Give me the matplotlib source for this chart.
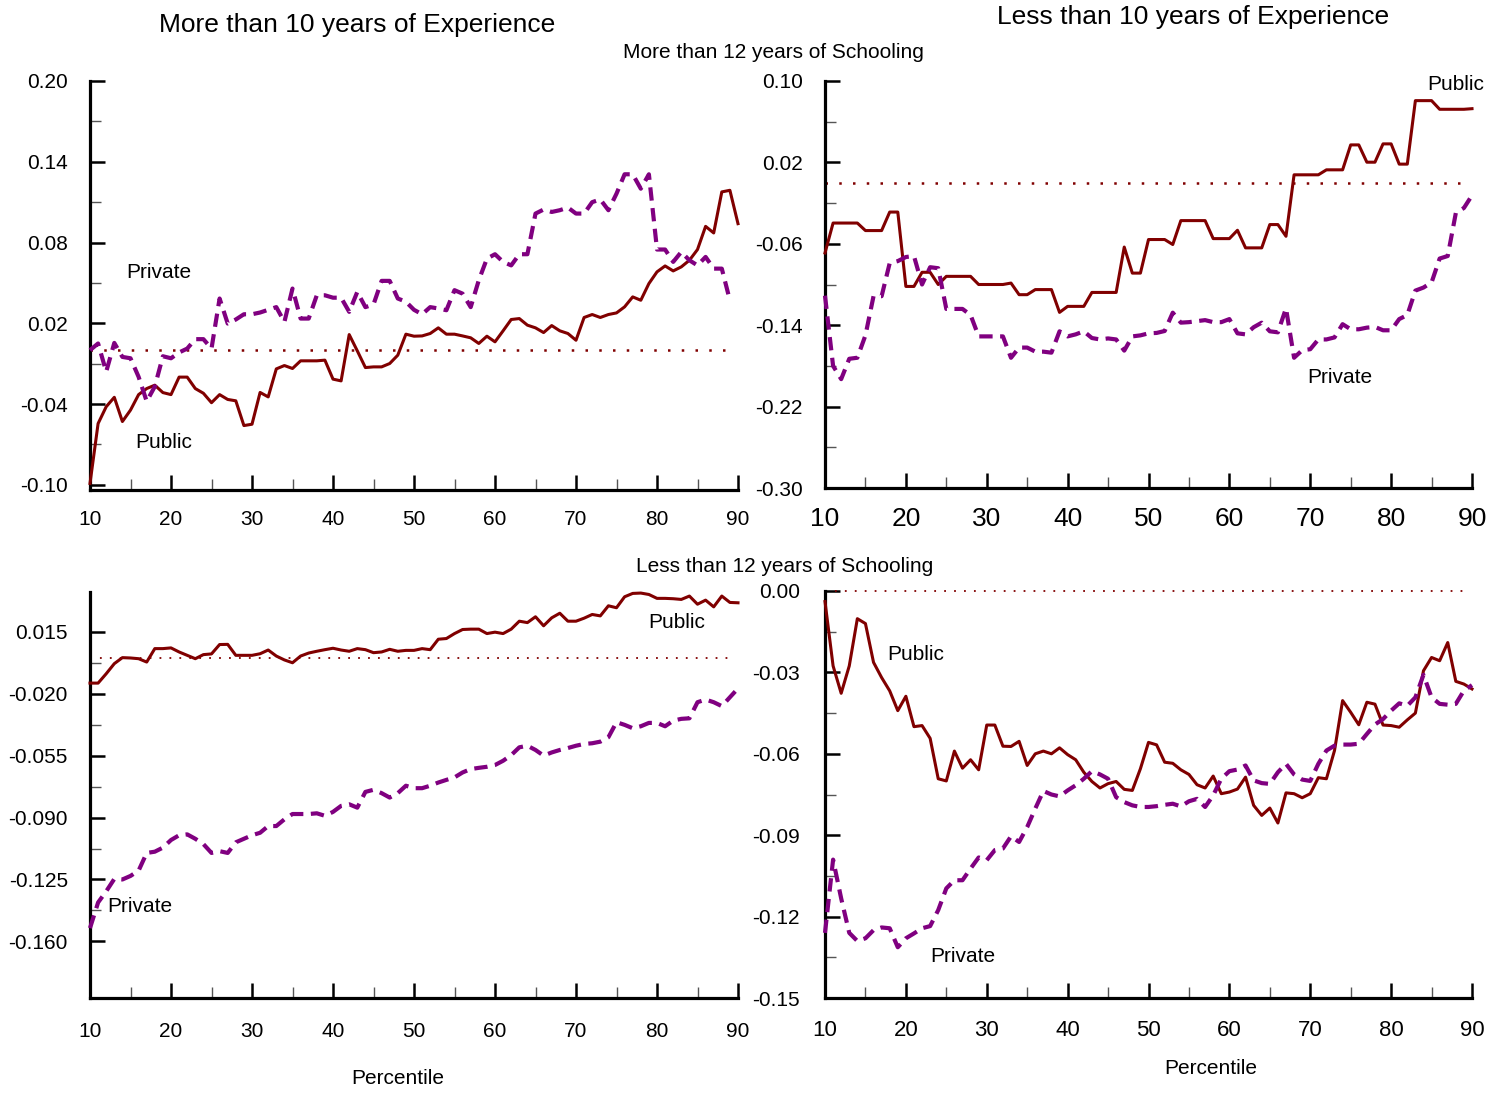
import numpy as np
import matplotlib
matplotlib.use("Agg")
import matplotlib.pyplot as plt
from matplotlib.ticker import FixedLocator

plt.rcParams['font.family'] = ['Liberation Sans', 'DejaVu Sans']

pct = np.arange(10, 91)

# top left: more than 12 yrs schooling, more than 10 yrs experience
pub_tl = [-0.099, -0.0545, -0.042, -0.035, -0.053, -0.0445, -0.033, -0.0285, -0.026, -0.0315,
          -0.033, -0.020, -0.020, -0.0285, -0.032, -0.039, -0.033, -0.0366, -0.0376, -0.056,
          -0.055, -0.0314, -0.0347, -0.0139, -0.0114, -0.0136, -0.0079, -0.0079, -0.0079, -0.0074,
          -0.0215, -0.0228, 0.0116, -0.0005, -0.0129, -0.0124, -0.0124, -0.0099, -0.0037, 0.0119,
          0.0104, 0.0106, 0.0124, 0.0166, 0.0119, 0.0119, 0.0106, 0.0092, 0.005, 0.0104,
          0.0062, 0.0144, 0.0228, 0.0235, 0.0186, 0.0166, 0.0131, 0.0183, 0.0144, 0.0124,
          0.0074, 0.0243, 0.0265, 0.0243, 0.0265, 0.0277, 0.0322, 0.0396, 0.0371, 0.0495,
          0.0582, 0.0626, 0.0589, 0.0619, 0.0668, 0.0748, 0.092, 0.0871, 0.1176, 0.1188,
          0.094]
priv_tl = [0.000, 0.005, -0.016, 0.0054, -0.005, -0.006, -0.0198, -0.038, -0.027, -0.0045,
           -0.006, -0.0017, 0.0012, 0.0082, 0.0082, 0.0012, 0.0384, 0.0198, 0.0228, 0.0267,
           0.0267, 0.028, 0.030, 0.032, 0.021, 0.0458, 0.0235, 0.0235, 0.0408, 0.0408,
           0.039, 0.039, 0.0285, 0.0433, 0.032, 0.034, 0.0515, 0.0515, 0.0384, 0.036,
           0.030, 0.0267, 0.032, 0.031, 0.0297, 0.0446, 0.042, 0.032, 0.052, 0.068,
           0.0713, 0.0656, 0.063, 0.0713, 0.0713, 0.1015, 0.1045, 0.1027, 0.104, 0.106,
           0.1015, 0.1015, 0.110, 0.112, 0.104, 0.1163, 0.1307, 0.1307, 0.120, 0.1307,
           0.0748, 0.0748, 0.0656, 0.073, 0.0668, 0.063, 0.0693, 0.0606, 0.0606, 0.037,
           np.nan]

# top right: more than 12 yrs schooling, less than 10 yrs experience
pub_tr = [-0.069, -0.0396, -0.0396, -0.0396, -0.0396, -0.047, -0.047, -0.047, -0.0288, -0.0288,
          -0.1019, -0.1019, -0.088, -0.088, -0.100, -0.092, -0.092, -0.092, -0.092, -0.100,
          -0.100, -0.100, -0.100, -0.0986, -0.110, -0.110, -0.105, -0.105, -0.105, -0.1274,
          -0.1215, -0.1215, -0.1215, -0.1078, -0.1078, -0.1078, -0.1078, -0.0632, -0.0888, -0.0888,
          -0.0558, -0.0558, -0.0558, -0.0607, -0.0372, -0.0372, -0.0372, -0.0372, -0.0549, -0.0549,
          -0.0549, -0.0467, -0.064, -0.064, -0.064, -0.0411, -0.0411, -0.0526, 0.0078, 0.0078,
          0.0078, 0.0078, 0.0127, 0.0127, 0.0127, 0.0372, 0.0372, 0.0202, 0.0202, 0.0382,
          0.0382, 0.0183, 0.0183, 0.0807, 0.0807, 0.0807, 0.0722, 0.0722, 0.0722, 0.0722,
          0.0728]
priv_tr = [-0.111, -0.180, -0.193, -0.173, -0.172, -0.150, -0.1115, -0.1115, -0.079, -0.077,
           -0.073, -0.072, -0.100, -0.083, -0.084, -0.124, -0.124, -0.124, -0.130, -0.151,
           -0.151, -0.151, -0.151, -0.172, -0.162, -0.162, -0.166, -0.166, -0.167, -0.146,
           -0.151, -0.149, -0.146, -0.1526, -0.154, -0.153, -0.154, -0.165, -0.151, -0.150,
           -0.148, -0.1476, -0.1457, -0.1277, -0.1375, -0.137, -0.136, -0.135, -0.137, -0.137,
           -0.134, -0.148, -0.149, -0.142, -0.1375, -0.146, -0.147, -0.1234, -0.172, -0.1646,
           -0.1636, -0.154, -0.154, -0.152, -0.139, -0.144, -0.144, -0.1424, -0.1417, -0.145,
           -0.145, -0.134, -0.130, -0.106, -0.103, -0.098, -0.0745, -0.072, -0.0297, -0.0248,
           -0.0124]

# bottom left: less than 12 yrs schooling, more than 10 yrs experience
pub_bl = [-0.0140, -0.0140, -0.0087, -0.0030, 0.0004, 0.0002, -0.0002, -0.0021, 0.0055, 0.0055,
          0.0059, 0.0036, 0.0017, -0.0002, 0.0021, 0.0025, 0.0078, 0.0079, 0.0017, 0.0017,
          0.0017, 0.0026, 0.0047, 0.0013, -0.0009, -0.0025, 0.0013, 0.0030, 0.0040, 0.0049,
          0.0057, 0.0047, 0.0040, 0.0055, 0.0049, 0.0032, 0.0036, 0.0051, 0.0040, 0.0045,
          0.0045, 0.0055, 0.0049, 0.0108, 0.0112, 0.0140, 0.0163, 0.0165, 0.0165, 0.0140,
          0.0148, 0.0140, 0.0165, 0.0210, 0.0202, 0.0235, 0.0184, 0.0229, 0.0255, 0.0210,
          0.0210, 0.0227, 0.0248, 0.0240, 0.0297, 0.0286, 0.0348, 0.0367, 0.0369, 0.0361,
          0.0339, 0.0339, 0.0337, 0.0333, 0.0352, 0.0306, 0.0329, 0.0291, 0.0352, 0.0316,
          0.0314]
priv_bl = [-0.1525, -0.138, -0.1317, -0.1247, -0.125, -0.123, -0.120, -0.110, -0.1093, -0.107,
           -0.1027, -0.100, -0.0995, -0.102, -0.105, -0.110, -0.109, -0.110, -0.104, -0.102,
           -0.100, -0.0986, -0.0948, -0.0948, -0.091, -0.088, -0.088, -0.088, -0.0876, -0.089,
           -0.0868, -0.0834, -0.0825, -0.0844, -0.0755, -0.0743, -0.0762, -0.0787, -0.0762, -0.072,
           -0.0734, -0.0734, -0.072, -0.0702, -0.0687, -0.0673, -0.0645, -0.0626, -0.0619, -0.0613,
           -0.0603, -0.0579, -0.0547, -0.0503, -0.0494, -0.0518, -0.055, -0.0532, -0.0518, -0.0507,
           -0.0494, -0.0484, -0.048, -0.0471, -0.0446, -0.0361, -0.0376, -0.0395, -0.0384, -0.0365,
           -0.0365, -0.0384, -0.0352, -0.0342, -0.0339, -0.0248, -0.0233, -0.0248, -0.027, -0.022,
           -0.017]

# bottom right: less than 12 yrs schooling, less than 10 yrs experience
pub_br = [-0.0039, -0.0276, -0.0377, -0.0276, -0.0102, -0.012, -0.0263, -0.0319, -0.0368, -0.0441,
          -0.0388, -0.050, -0.0496, -0.0543, -0.0692, -0.070, -0.059, -0.0653, -0.0622, -0.0659,
          -0.0494, -0.0494, -0.0572, -0.0573, -0.0554, -0.0643, -0.060, -0.059, -0.060, -0.0578,
          -0.0603, -0.0622, -0.0668, -0.0702, -0.0726, -0.0710, -0.0702, -0.0731, -0.0735, -0.0655,
          -0.0558, -0.0567, -0.0631, -0.0635, -0.0659, -0.0676, -0.0714, -0.0726, -0.0682, -0.0747,
          -0.0741, -0.073, -0.0686, -0.079, -0.0827, -0.080, -0.0855, -0.0744, -0.0747, -0.0762,
          -0.0747, -0.0688, -0.0692, -0.0588, -0.0404, -0.0447, -0.0493, -0.041, -0.0417, -0.0494,
          -0.0496, -0.0502, -0.0475, -0.045, -0.0294, -0.0245, -0.0257, -0.019, -0.0333, -0.0343,
          -0.0361]
priv_br = [-0.126, -0.099, -0.1133, -0.126, -0.129, -0.128, -0.125, -0.124, -0.1243, -0.1313,
           -0.128, -0.1262, -0.1243, -0.1235, -0.1176, -0.1096, -0.1066, -0.1066, -0.1023, -0.0982,
           -0.0992, -0.0955, -0.0949, -0.0904, -0.0925, -0.087, -0.0802, -0.0737, -0.075, -0.0757,
           -0.0735, -0.0716, -0.0692, -0.0664, -0.0676, -0.0692, -0.076, -0.0778, -0.079, -0.0796,
           -0.0796, -0.0793, -0.0788, -0.0784, -0.0794, -0.0775, -0.0766, -0.0796, -0.0753, -0.0692,
           -0.0664, -0.0658, -0.0643, -0.0698, -0.0708, -0.0711, -0.0668, -0.0637, -0.0676, -0.0695,
           -0.070, -0.0637, -0.0588, -0.057, -0.0566, -0.0566, -0.0563, -0.0527, -0.0492, -0.0472,
           -0.0441, -0.0414, -0.0423, -0.0392, -0.0309, -0.0392, -0.0416, -0.0419, -0.0416, -0.0367,
           -0.0347]

yticks_tl = [0.20, 0.14, 0.08, 0.02, -0.04, -0.10]
yticks_tr = [0.10, 0.02, -0.06, -0.14, -0.22, -0.30]
yticks_bl = [0.015, -0.020, -0.055, -0.090, -0.125, -0.160]
yticks_br = [0.00, -0.03, -0.06, -0.09, -0.12, -0.15]

W, H = 1505, 1093
fig = plt.figure(figsize=(W / 100, H / 100), dpi=100)


def box(l, r, t, b):
    return [l / W, 1 - b / H, (r - l) / W, (b - t) / H]


PUB = '#800000'
PRIV = '#800080'


def panel(rect, pub, priv, yticks, ylim, fmt, xsize, xpad, ypad, zlw):
    ax = fig.add_axes(rect)
    ax.plot(pct, pub, color=PUB, lw=2.2, clip_on=False, zorder=3)
    ax.plot(pct, priv, color=PRIV, lw=3.0, ls=(0, (3.2, 1.8)), clip_on=False, zorder=3)
    ax.plot([10, 89], [0, 0], color=PUB, lw=zlw, ls=(0, (1, 4.5)), clip_on=False, zorder=2)
    ax.set_xlim(10, 90)
    ax.set_ylim(*ylim)
    ax.set_xticks(range(10, 91, 10))
    ax.xaxis.set_minor_locator(FixedLocator(range(15, 90, 10)))
    step = yticks[0] - yticks[1]
    ax.set_yticks(yticks)
    ax.set_yticklabels([fmt % v for v in yticks])
    ax.yaxis.set_minor_locator(FixedLocator([v - step / 2 for v in yticks[:-1]]))
    for s in ['top', 'right']:
        ax.spines[s].set_visible(False)
    for s in ['left', 'bottom']:
        ax.spines[s].set_linewidth(2.3)
    ax.tick_params(which='major', direction='in', length=11, width=1.8, color='black')
    ax.tick_params(which='minor', direction='in', length=8, width=1.0, color='#555555')
    ax.tick_params(axis='x', which='major', labelsize=xsize, pad=xpad)
    ax.tick_params(axis='y', which='major', labelsize=15, pad=ypad)
    return ax


panel(box(90, 738, 81, 489.5), pub_tl, priv_tl, yticks_tl, (-0.1035, 0.20), '%.2f', 15, 14.5, 16, 1.8)
panel(box(825, 1472, 81, 488), pub_tr, priv_tr, yticks_tr, (-0.30, 0.10), '%.2f', 19, 14, 16, 1.8)
panel(box(90, 738, 592, 998), pub_bl, priv_bl, yticks_bl, (-0.192, 0.0375), '%.3f', 15, 17, 16, 1.3)
panel(box(825, 1472, 591, 998), pub_br, priv_br, yticks_br, (-0.15, 0.0), '%.2f', 16, 16, 18, 1.3)


def label(x, y, s, size=15, ha='left'):
    fig.text(x / W, 1 - y / H, s, fontsize=size, ha=ha, va='center')


label(357, 25, 'More than 10 years of Experience', 19, 'center')
label(1193, 17, 'Less than 10 years of Experience', 19, 'center')
label(773, 53, 'More than 12 years of Schooling', 15, 'center')
label(785, 567, 'Less than 12 years of Schooling', 15, 'center')
label(398, 1078, 'Percentile', 15, 'center')
label(1211, 1068, 'Percentile', 15, 'center')

label(126, 272, 'Private')
label(135, 442, 'Public')
label(1427, 85, 'Public')
label(1307, 378, 'Private')
label(107, 906, 'Private')
label(648, 623, 'Public')
label(887, 655, 'Public')
label(930, 956, 'Private')

fig.savefig('out.png', dpi=100)
